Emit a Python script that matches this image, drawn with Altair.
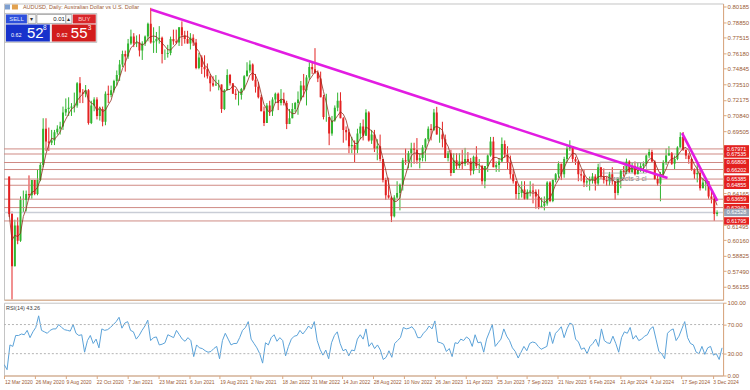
import altair as alt
import pandas as pd

# ---------------- weekly AUD/USD candles ----------------
close_2020 = [.6240, .5790, .6140, .6010, .6360, .6360, .6410, .6400, .6530, .6410, .6530, .6660,
              .6970, .6860, .6850, .6870, .6940, .6970, .6990, .7110, .7140, .7150, .7160, .7170,
              .7360, .7280, .7270, .7300, .7020, .7170, .7220, .7080, .7140, .7030, .7270, .7260,
              .7300, .7380, .7430, .7520, .7610, .7590, .7700]
high_2020 = [.6550, .6260, .6190, .6210, .6390, .6440, .6440, .6570, .6530, .6530, .6620, .6680,
             .7060, .7060, .6980, .6960, .6960, .7000, .7030, .7160, .7230, .7240, .7190, .7280,
             .7370, .7413, .7310, .7345, .7310, .7210, .7240, .7240, .7160, .7160, .7290, .7340,
             .7340, .7390, .7470, .7560, .7640, .7640, .7740]
low_2020 = [.6214, .5506, .5790, .5980, .6000, .6250, .6260, .6370, .6370, .6400, .6400, .6520,
            .6640, .6780, .6780, .6830, .6830, .6920, .6920, .6960, .7080, .7080, .7080, .7110,
            .7150, .7190, .7190, .7240, .7005, .7010, .7120, .7050, .7040, .6991, .7000, .7190,
            .7240, .7280, .7340, .7380, .7500, .7460, .7570]
rsi_2020 = [15, 8, 42, 40, 55, 55, 57, 56, 62, 52, 60, 66, 82, 62, 60, 58, 62, 64, 64, 70, 66, 63,
            62, 61, 70, 58, 55, 56, 32, 48, 55, 44, 50, 38, 64, 62, 63, 66, 70, 74, 80, 65, 72]

close_2021 = [.7760, .7700, .7710, .7640, .7700, .7760, .7870, .7710, .7720, .7740, .7750, .7610,
              .7610, .7620, .7740, .7720, .7710, .7840, .7770, .7740, .7700, .7750, .7710, .7490,
              .7580, .7500, .7480, .7420, .7360, .7340, .7350, .7350, .7140, .7300, .7430, .7360,
              .7270, .7260, .7260, .7310, .7420, .7470, .7520, .7390, .7330, .7240, .7120, .7020,
              .7170, .7120, .7220, .7270]
high_2021 = [.7820, .7790, .7770, .7780, .7720, .7770, .7880, .8007, .7840, .7800, .7850, .7760,
             .7650, .7690, .7760, .7820, .7820, .7840, .7891, .7810, .7810, .7790, .7780, .7740,
             .7620, .7600, .7600, .7530, .7440, .7420, .7430, .7390, .7350, .7310, .7480, .7440,
             .7360, .7310, .7290, .7320, .7430, .7540, .7556, .7530, .7440, .7370, .7260, .7160,
             .7190, .7210, .7240, .7280]
low_2021 = [.7690, .7670, .7670, .7590, .7560, .7680, .7720, .7700, .7620, .7620, .7700, .7530,
            .7560, .7580, .7600, .7690, .7700, .7680, .7680, .7700, .7700, .7650, .7680, .7480,
            .7480, .7440, .7410, .7400, .7290, .7330, .7340, .7300, .7106, .7130, .7300, .7340,
            .7270, .7220, .7170, .7220, .7300, .7420, .7450, .7380, .7280, .7230, .7120, .6993,
            .7020, .7080, .7080, .7190]
rsi_2021 = [74, 62, 60, 50, 55, 62, 68, 76, 48, 52, 53, 42, 43, 45, 56, 54, 52, 62, 56, 50, 47, 52,
            48, 26, 42, 38, 37, 34, 32, 33, 37, 40, 23, 48, 58, 50, 42, 44, 44, 52, 62, 66, 74, 50,
            44, 38, 30, 17, 45, 42, 52, 56]

close_2022 = [.7190, .7220, .7190, .7010, .7060, .7140, .7190, .7220, .7340, .7300, .7410, .7500,
              .7480, .7450, .7400, .7240, .7070, .7070, .6930, .7040, .7150, .7210, .7060, .6960,
              .6940, .6820, .6830, .6790, .6930, .6990, .6910, .7110, .6870, .6920, .6800, .6820,
              .6710, .6530, .6400, .6380, .6220, .6380, .6420, .6490, .6700, .6690, .6760, .6800,
              .6790, .6700, .6720, .6810]
high_2022 = [.7280, .7310, .7280, .7210, .7140, .7190, .7200, .7290, .7380, .7440, .7430, .7540,
             .7540, .7661, .7470, .7460, .7260, .7270, .7060, .7080, .7170, .7280, .7283, .7070,
             .6990, .6970, .6900, .6870, .6970, .7020, .7050, .7137, .7120, .6960, .6960, .6880,
             .6920, .6710, .6550, .6550, .6390, .6400, .6520, .6500, .6720, .6800, .6780, .6850,
             .6850, .6890, .6760, .6830]
low_2022 = [.7130, .7170, .7170, .6967, .7010, .7060, .7110, .7090, .7210, .7240, .7170, .7390,
            .7440, .7440, .7370, .7240, .7050, .7030, .6829, .6910, .7030, .7120, .7060, .6850,
            .6870, .6760, .6760, .6680, .6760, .6880, .6870, .6910, .6860, .6840, .6770, .6700,
            .6690, .6510, .6360, .6370, .6170, .6210, .6370, .6270, .6440, .6660, .6630, .6640,
            .6670, .6670, .6630, .6690]
rsi_2022 = [47, 52, 48, 27, 40, 50, 54, 55, 62, 57, 62, 68, 64, 74, 48, 36, 28, 35, 23, 45, 55, 60,
            44, 34, 36, 27, 35, 34, 50, 56, 50, 64, 40, 45, 37, 42, 35, 22, 25, 34, 25, 44, 48, 52,
            66, 64, 65, 67, 62, 52, 52, 58]

close_2023 = [.6880, .6970, .6960, .7110, .6920, .6920, .6880, .6720, .6760, .6590, .6700, .6650,
              .6690, .6670, .6710, .6690, .6610, .6730, .6650, .6650, .6520, .6650, .6740, .6860,
              .6640, .6660, .6690, .6840, .6750, .6680, .6580, .6520, .6410, .6420, .6450, .6370,
              .6430, .6440, .6430, .6390, .6300, .6310, .6330, .6510, .6350, .6530, .6580, .6670,
              .6580, .6710, .6800, .6820]
high_2023 = [.6890, .6990, .7010, .7140, .7158, .6980, .7030, .6920, .6780, .6790, .6760, .6760,
             .6760, .6790, .6806, .6770, .6720, .6740, .6820, .6710, .6660, .6650, .6750, .6900,
             .6900, .6690, .6720, .6895, .6870, .6820, .6740, .6620, .6520, .6490, .6520, .6520,
             .6450, .6520, .6500, .6450, .6450, .6380, .6390, .6520, .6520, .6540, .6590, .6690,
             .6670, .6730, .6820, .6871]
low_2023 = [.6690, .6860, .6870, .6950, .6920, .6850, .6810, .6720, .6690, .6564, .6590, .6620,
            .6630, .6620, .6650, .6660, .6570, .6580, .6630, .6590, .6490, .6460, .6600, .6730,
            .6640, .6600, .6600, .6680, .6720, .6620, .6540, .6500, .6365, .6360, .6380, .6360,
            .6360, .6390, .6330, .6285, .6280, .6290, .6270, .6310, .6340, .6340, .6510, .6550,
            .6530, .6550, .6680, .6780]
rsi_2023 = [62, 68, 64, 75, 46, 45, 43, 33, 37, 26, 45, 44, 50, 48, 53, 50, 40, 56, 45, 46, 32, 50,
            60, 70, 40, 45, 50, 64, 54, 48, 38, 33, 24, 32, 40, 34, 44, 46, 45, 40, 36, 38, 40, 60,
            44, 58, 62, 67, 52, 64, 72, 70]

close_2024 = [.6710, .6690, .6580, .6570, .6510, .6520, .6530, .6560, .6500, .6640, .6560, .6530,
              .6520, .6580, .6520, .6420, .6540, .6610, .6600, .6690, .6600, .6650, .6580, .6610,
              .6650, .6670, .6740, .6770, .6690, .6540, .6500, .6580, .6680, .6740, .6760, .6670,
              .6710, .6810, .6900, .6790, .6740, .6710, .6620, .6580, .6590, .6460, .6510, .6520,
              .6390, .6370, .6240, .6253]
high_2024 = [.6820, .6730, .6700, .6620, .6620, .6540, .6560, .6590, .6580, .6670, .6640, .6630,
             .6560, .6600, .6640, .6500, .6550, .6620, .6650, .6714, .6700, .6680, .6690, .6680,
             .6680, .6690, .6750, .6798, .6790, .6700, .6580, .6600, .6700, .6800, .6820, .6770,
             .6740, .6820, .6940, .6942, .6790, .6760, .6720, .6630, .6690, .6620, .6550, .6550,
             .6520, .6440, .6390, .6270]
low_2024 = [.6680, .6660, .6520, .6520, .6470, .6470, .6440, .6500, .6440, .6480, .6540, .6500,
            .6480, .6480, .6490, .6362, .6400, .6460, .6560, .6580, .6590, .6590, .6570, .6580,
            .6600, .6590, .6650, .6720, .6680, .6530, .6480, .6348, .6550, .6660, .6740, .6660,
            .6620, .6700, .6810, .6780, .6710, .6670, .6610, .6540, .6510, .6440, .6460, .6440,
            .6370, .6330, .6180, .6220]
rsi_2024 = [50, 46, 36, 38, 30, 40, 44, 50, 40, 64, 48, 45, 44, 54, 44, 32, 52, 60, 58, 66, 50, 55,
            48, 50, 54, 56, 64, 67, 50, 33, 30, 23, 58, 62, 64, 48, 54, 64, 74, 52, 44, 42, 32, 30,
            40, 29, 38, 40, 28, 30, 22, 38]

first_open = 0.6560

# horizontal levels and their labels
level_red = [0.67971, 0.67535, 0.66806, 0.66202, 0.65385, 0.64855, 0.63659, 0.62940, 0.61795]
level_grey = [0.62528]
# price scale labels left visible (the ones under the level tags are hidden in the reference)
price_ticks = [0.80185, 0.78850, 0.77515, 0.76180, 0.74845, 0.73510, 0.72175, 0.70840, 0.69505,
               0.64165, 0.61495, 0.60160, 0.58825, 0.57490, 0.56155]
low_tag = [0.61495]  # scale label just under the last level tag, drawn a little lower
date_ticks = ["2020-03-12", "2020-05-26", "2020-08-09", "2020-10-22", "2021-01-07", "2021-03-23",
              "2021-06-06", "2021-08-19", "2021-11-02", "2022-01-18", "2022-03-31", "2022-06-14",
              "2022-08-28", "2022-11-10", "2023-01-26", "2023-04-11", "2023-06-25", "2023-09-07",
              "2023-11-21", "2024-02-06", "2024-04-21", "2024-07-04", "2024-09-17", "2024-12-03"]
trend_id = ["a", "a", "b", "b"]
trend_t = ["2021-02-25T00:00:00", "2024-08-25T00:00:00", "2024-09-30T00:00:00", "2024-12-26T00:00:00"]
trend_p = [0.7993, 0.6547, 0.6932, 0.6351]
boxes_t1 = ["2024-03-11T00:00:00", "2024-05-16T00:00:00"]
boxes_t2 = ["2024-05-11T00:00:00", "2024-07-04T00:00:00"]
boxes_p1 = [0.6684, 0.6678]
boxes_p2 = [0.6590, 0.6590]
rsi_ticks = [0, 30, 70, 100]
rsi_levels = [30, 70]

# ---------------- assemble ----------------
closes = close_2020 + close_2021 + close_2022 + close_2023 + close_2024
highs = high_2020 + high_2021 + high_2022 + high_2023 + high_2024
lows = low_2020 + low_2021 + low_2022 + low_2023 + low_2024
rsis = rsi_2020 + rsi_2021 + rsi_2022 + rsi_2023 + rsi_2024
n = len(closes)
assert len(highs) == n and len(lows) == n and len(rsis) == n, (len(highs), len(lows), len(rsis), n)

weeks = pd.date_range("2020-03-09", periods=n, freq="W-MON") + pd.Timedelta(hours=60)
df = pd.DataFrame({"t": weeks.strftime("%Y-%m-%dT%H:%M:%S"), "o": [first_open] + closes[:-1],
                   "h": highs, "l": lows, "c": closes, "rsi": rsis})
df["h"] = df[["h", "o", "c"]].max(axis=1)
df["l"] = df[["l", "o", "c"]].min(axis=1)
df["dir"] = ["up" if c >= o else "down" for o, c in zip(df.o, df.c)]

W, H1, H2 = 721, 297, 73
AX = "#dba77e"
LAB = "#9b5b35"
FONT = "Liberation Sans"


def dt(s):
    y, m, d = [int(v) for v in s[:10].split("-")]
    return alt.DateTime(year=y, month=m, date=d)


xscale = alt.Scale(domain=[dt("2020-03-11"), dt("2024-12-28")], nice=False)
yscale = alt.Scale(domain=[0.5504, 0.8044], nice=False, zero=False)
x_axis_main = alt.Axis(labels=False, ticks=False, title=None, grid=False, domainColor=AX)
y_axis_main = alt.Axis(orient="right", values=price_ticks, format=".5f", title=None, grid=False,
                       labelFontSize=6, labelFont=FONT, labelColor=LAB, tickSize=3, tickColor=AX,
                       domainColor=AX, labelPadding=1, labelOverlap=False, labelFlush=False,
                       labelExpr="abs(datum.value - %s) < 0.000001 ? '' : datum.label" % low_tag[0])


def xm(field="t:T"):
    return alt.X(field, scale=xscale, axis=x_axis_main)


def yq(field):
    return alt.Y(field, scale=yscale, axis=y_axis_main)


col = alt.Color("dir:N", scale=alt.Scale(domain=["up", "down"], range=["#2fb52f", "#e32222"]), legend=None)

base = alt.Chart(df)
wick = base.mark_rule(strokeWidth=1, clip=True).encode(x=xm(), y=yq("l:Q"), y2="h:Q", color=col)
body = base.mark_bar(size=2, clip=True).encode(x=xm(), y=yq("o:Q"), y2="c:Q", color=col)
ma = base.transform_window(ma="mean(c)", frame=[-3, 0], sort=[{"field": "t"}]).mark_line(
    color="#8f2b1c", strokeWidth=0.8, clip=True).encode(x=xm(), y=yq("ma:Q"))

lv = pd.DataFrame({"level": level_red})
lg = pd.DataFrame({"level": level_grey})
red_lines = alt.Chart(lv).mark_rule(color="#cf8a84", strokeWidth=1).encode(
    y=yq("level:Q"), x=alt.value(0), x2=alt.value(W))
grey_line = alt.Chart(lg).mark_rule(color="#c9cdd6", strokeWidth=1.5).encode(
    y=yq("level:Q"), x=alt.value(0), x2=alt.value(W))

bx = pd.DataFrame({"t": boxes_t1, "t2": boxes_t2, "p": boxes_p1, "p2": boxes_p2})
boxes = alt.Chart(bx).mark_rect(fill=None, stroke="#a8a8a8", strokeWidth=0.8).encode(
    x=xm(), x2="t2:T", y=yq("p:Q"), y2="p2:Q")
proj = alt.Chart(pd.DataFrame({"t": ["2024-04-03T00:00:00"], "p": [0.6535], "s": ["projects 3 cl"]})).mark_text(
    align="left", baseline="middle", fontSize=7, font=FONT, color="#8a8a8a").encode(
    x=xm(), y=yq("p:Q"), text="s:N")

tr = pd.DataFrame({"id": trend_id, "t": trend_t, "p": trend_p})
trend = alt.Chart(tr).mark_line(color="#e21ce2", strokeWidth=2.6, clip=True).encode(
    x=xm(), y=yq("p:Q"), detail="id:N")

red_box = alt.Chart(lv).transform_calculate(lo="datum.level - 0.0032", hi="datum.level + 0.0032").mark_rect(
    fill="#e3211f").encode(x=alt.value(W + 1), x2=alt.value(W + 26), y=yq("lo:Q"), y2="hi:Q")
red_txt = alt.Chart(lv).mark_text(fontSize=5.5, font=FONT, color="white", baseline="middle").encode(
    x=alt.value(W + 13.5), y=yq("level:Q"), text=alt.Text("level:Q", format=".5f"))
grey_box = alt.Chart(lg).transform_calculate(lo="datum.level - 0.0032", hi="datum.level + 0.0032").mark_rect(
    fill="#98a4b6").encode(x=alt.value(W + 1), x2=alt.value(W + 26), y=yq("lo:Q"), y2="hi:Q")
grey_txt = alt.Chart(lg).mark_text(fontSize=5.5, font=FONT, color="white", baseline="middle").encode(
    x=alt.value(W + 13.5), y=yq("level:Q"), text=alt.Text("level:Q", format=".5f"))
low_txt = alt.Chart(pd.DataFrame({"level": low_tag})).mark_text(
    fontSize=6, font=FONT, color=LAB, baseline="top", align="left", dy=-0.5).encode(
    x=alt.value(W + 4), y=yq("level:Q"), text=alt.Text("level:Q", format=".5f"))

one = pd.DataFrame({"k": [0]})


def rect(x1, y1, x2, y2, fill, stroke=None):
    kw = {"fill": fill}
    if stroke:
        kw["stroke"] = stroke
        kw["strokeWidth"] = 0.8
    return alt.Chart(one).mark_rect(**kw).encode(
        x=alt.value(x1 - 2), x2=alt.value(x2 - 2), y=alt.value(y1 - 2), y2=alt.value(y2 - 2))


def text(x, y, s, size, color, align="left", weight="normal"):
    return alt.Chart(one).mark_text(text=s, fontSize=size, font=FONT, color=color, align=align,
                                    baseline="middle", fontWeight=weight).encode(
        x=alt.value(x - 2), y=alt.value(y - 2))


overlay = [
    rect(3, 3, 8, 8, "#7d9fd0"), rect(10, 3, 16, 8, "#e2a14e"),
    text(21, 6, "AUDUSD, Daily:  Australian Dollar vs U.S. Dollar", 5.5, "#9b5b35"),
    rect(3, 12, 95, 41, "#eeeeee", "#b8b8b8"),
    rect(4, 13, 25, 22, "#2d4fdc"), text(14.5, 17.5, "SELL", 6, "#dfe6ff", "center"),
    rect(26, 13, 34, 22, "#f4f4f4", "#a0a0a0"), text(30, 17.5, "▾", 6, "#303030", "center"),
    rect(35, 13, 64, 22, "#ffffff", "#a0a0a0"), text(63, 17.5, "0.01", 6, "#202020", "right"),
    rect(64, 13, 70, 22, "#f4f4f4", "#a0a0a0"), text(67, 17.5, "▴", 6, "#303030", "center"),
    rect(71, 13, 94, 22, "#d8262a"), text(82.5, 17.5, "BUY", 6, "#ffcccc", "center"),
    rect(4, 23, 48, 40, "#1732cc"), rect(50, 23, 94, 40, "#d21c1c"),
    text(9, 34, "0.62", 5.5, "white"), text(25, 31.5, "52", 15, "white"), text(41, 26.5, "8", 6.5, "white"),
    text(55, 34, "0.62", 5.5, "white"), text(69, 31.5, "55", 15, "white"), text(86, 26.5, "3", 6.5, "white"),
]

main = alt.layer(wick, red_lines, grey_line, boxes, body, ma, trend, proj,
                 red_box, red_txt, grey_box, grey_txt, low_txt, *overlay).properties(width=W, height=H1)

# ---------------- RSI panel ----------------
rscale = alt.Scale(domain=[0, 100], nice=False)
x_axis_rsi = alt.Axis(values=[dt(s) for s in date_ticks], format="%-d %b %Y", title=None, grid=False,
                      labelAlign="left", labelFontSize=5, labelFont=FONT, labelColor=LAB,
                      tickSize=3, tickColor=AX, domainColor=AX, labelPadding=1, labelFlush=False,
                      labelOverlap=False, labelBound=False)
y_axis_rsi = alt.Axis(orient="right", values=rsi_ticks, format=".2f", title=None, grid=False,
                      labelFontSize=6, labelFont=FONT, labelColor=LAB, tickSize=3, tickColor=AX,
                      domainColor=AX, labelPadding=1, labelOverlap=False, labelFlush=False)
rsi_line = alt.Chart(df).mark_line(color="#5aa2d8", strokeWidth=1, clip=True).encode(
    x=alt.X("t:T", scale=xscale, axis=x_axis_rsi),
    y=alt.Y("rsi:Q", scale=rscale, axis=y_axis_rsi))
rsi_rules = alt.Chart(pd.DataFrame({"v": rsi_levels})).mark_rule(
    color="#b4b4b4", strokeDash=[2, 2], strokeWidth=1).encode(
    y=alt.Y("v:Q", scale=rscale, axis=y_axis_rsi), x=alt.value(0), x2=alt.value(W))
rsi_label = alt.Chart(one).mark_text(text="RSI(14) 43.26", fontSize=5.5, font=FONT, color="#404040",
                                     align="left", baseline="middle").encode(x=alt.value(2), y=alt.value(5))
rsi = alt.layer(rsi_line, rsi_rules, rsi_label).properties(width=W, height=H2)

chart = alt.vconcat(main, rsi, spacing=3, bounds="flush").properties(
    padding={"left": 2, "top": 2, "right": 0, "bottom": 0}, background="white"
).configure_view(stroke="#c4c4c4", strokeWidth=1)

chart.save("out.html", embed_options={"renderer": "svg", "actions": False})
